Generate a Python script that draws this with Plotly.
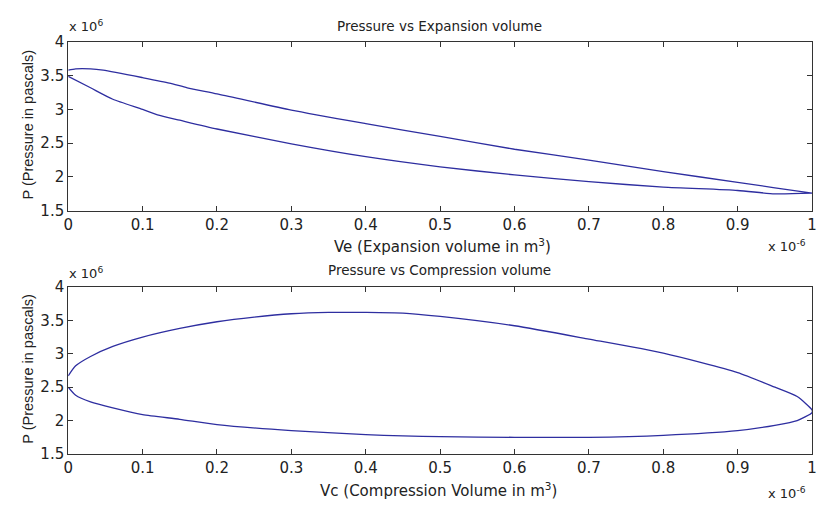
import plotly.graph_objects as go

# Expansion space: volume (x 1e-6 m^3) and pressure (x 1e6 Pa)
ve_upper = [0.0, 0.01, 0.03, 0.047, 0.1, 0.136, 0.16, 0.2, 0.3, 0.4, 0.5, 0.6, 0.7, 0.8, 0.9, 1.0]
pe_upper = [3.58, 3.60, 3.60, 3.58, 3.47, 3.39, 3.32, 3.23, 2.99, 2.79, 2.60, 2.41, 2.25, 2.08, 1.92, 1.76]
ve_lower = [1.0, 0.95, 0.9, 0.8, 0.7, 0.6, 0.5, 0.4, 0.3, 0.2, 0.15, 0.12, 0.1, 0.06, 0.03, 0.0]
pe_lower = [1.76, 1.75, 1.80, 1.85, 1.93, 2.03, 2.15, 2.30, 2.49, 2.71, 2.84, 2.92, 3.00, 3.15, 3.32, 3.49]

# Compression space: volume (x 1e-6 m^3) and pressure (x 1e6 Pa)
vc_upper = [0.0, 0.01, 0.03, 0.06, 0.1, 0.15, 0.2, 0.25, 0.3, 0.35, 0.4, 0.45, 0.5, 0.6, 0.7, 0.8, 0.9, 0.95, 0.98, 1.0]
pc_upper = [2.67, 2.82, 2.96, 3.11, 3.25, 3.38, 3.48, 3.55, 3.60, 3.62, 3.62, 3.61, 3.56, 3.42, 3.22, 3.01, 2.72, 2.50, 2.36, 2.16]
vc_lower = [1.0, 0.98, 0.95, 0.9, 0.8, 0.7, 0.6, 0.5, 0.45, 0.4, 0.3, 0.2, 0.15, 0.1, 0.06, 0.03, 0.01, 0.0]
pc_lower = [2.12, 2.00, 1.93, 1.85, 1.78, 1.75, 1.75, 1.76, 1.77, 1.79, 1.85, 1.94, 2.02, 2.09, 2.19, 2.28, 2.38, 2.50]

x_ticks = [0, 0.1, 0.2, 0.3, 0.4, 0.5, 0.6, 0.7, 0.8, 0.9, 1]
x_tick_text = ["0", "0.1", "0.2", "0.3", "0.4", "0.5", "0.6", "0.7", "0.8", "0.9", "1"]
y_ticks = [1.5, 2, 2.5, 3, 3.5, 4]
y_tick_text = ["1.5", "2", "2.5", "3", "3.5", "4"]

LINE = "#2e2ea0"
FONT = "DejaVu Sans, Arial, sans-serif"
VFONT = "Arial, Liberation Sans, sans-serif"
INK = "#222222"

fig = go.Figure()

# closed P-V loops, smoothed between the sampled points
fig.add_trace(go.Scatter(x=ve_upper + ve_lower, y=pe_upper + pe_lower,
                         mode="lines", line=dict(color=LINE, width=1.3, shape="spline", smoothing=0.6),
                         xaxis="x", yaxis="y", showlegend=False, hoverinfo="skip"))
fig.add_trace(go.Scatter(x=vc_upper + vc_lower, y=pc_upper + pc_lower,
                         mode="lines", line=dict(color=LINE, width=1.3, shape="spline", smoothing=0.6),
                         xaxis="x2", yaxis="y2", showlegend=False, hoverinfo="skip"))

W, H = 821, 519
x0, x1 = 64 / W, 817 / W

def ax_common():
    return dict(showgrid=False, zeroline=False, showline=True, linecolor="#333333", linewidth=1,
                mirror="ticks", ticks="inside", ticklen=5, tickcolor="#333333",
                ticklabeloverflow="allow",
                tickfont=dict(family=FONT, size=15, color=INK))

fig.update_layout(
    width=W, height=H, margin=dict(l=0, r=0, t=0, b=0),
    paper_bgcolor="white", plot_bgcolor="white",
    xaxis=dict(domain=[x0, x1], range=[0, 1], tickvals=x_ticks, ticktext=x_tick_text,
               anchor="y", **ax_common()),
    yaxis=dict(domain=[1 - 209 / H, 1 - 34 / H], range=[1.5, 4], tickvals=y_ticks,
               ticktext=y_tick_text, anchor="x", **ax_common()),
    xaxis2=dict(domain=[x0, x1], range=[0, 1], tickvals=x_ticks, ticktext=x_tick_text,
                anchor="y2", **ax_common()),
    yaxis2=dict(domain=[1 - 461 / H, 1 - 288 / H], range=[1.5, 4], tickvals=y_ticks,
                ticktext=y_tick_text, anchor="x2", **ax_common()),
)

def txt(x, y, s, size, angle=0, xanchor="center", family=FONT):
    fig.add_annotation(x=x / W, y=1 - y / H, xref="paper", yref="paper", text=s, showarrow=False,
                       font=dict(family=family, size=size, color=INK), textangle=angle,
                       xanchor=xanchor, yanchor="middle")

# titles
txt(440, 18, "Pressure vs Expansion volume", 13.5)
txt(440, 270, "Pressure vs Compression volume", 13.5)
# axis titles
txt(443, 245, "Ve (Expansion volume in m<sup>3</sup>)", 15)
txt(439, 498, "Vc (Compression Volume in m<sup>3</sup>)", 15)
txt(23, 120, "P (Pressure in pascals)", 14.5, angle=-90, family=VFONT)
txt(23, 373, "P (Pressure in pascals)", 14.5, angle=-90, family=VFONT)
# exponent labels
txt(63, 18, "x 10<sup>6</sup>", 13, xanchor="left")
txt(63, 273, "x 10<sup>6</sup>", 13, xanchor="left")
txt(813, 246, "x 10<sup>-6</sup>", 13, xanchor="right")
txt(813, 501, "x 10<sup>-6</sup>", 13, xanchor="right")

fig.write_html("out.html")
